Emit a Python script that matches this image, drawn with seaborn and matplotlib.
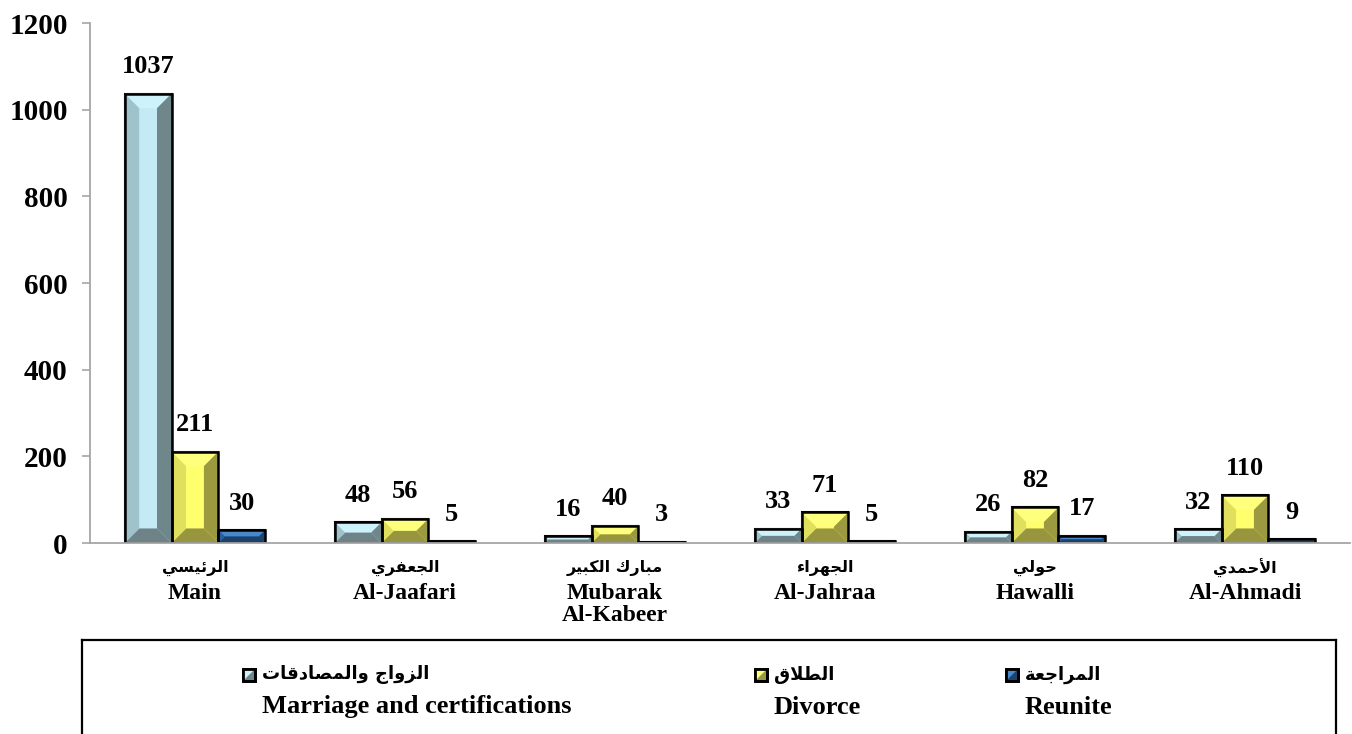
import numpy as np
import pandas as pd
import matplotlib
matplotlib.use("Agg")
import matplotlib.pyplot as plt
import seaborn as sns
from matplotlib.patches import Polygon, Rectangle

# ---------------- data ----------------
categories_en = ["Main", "Al-Jaafari", "Mubarak\nAl-Kabeer", "Al-Jahraa", "Hawalli", "Al-Ahmadi"]
categories_ar = ["الرئيسي", "الجعفري", "مبارك الكبير", "الجهراء", "حولي", "الأحمدي"]
series_en = ["Marriage and certifications", "Divorce", "Reunite"]
series_ar = ["الزواج والمصادقات", "الطلاق", "المراجعة"]
marriage = [1037, 48, 16, 33, 26, 32]
divorce = [211, 56, 40, 71, 82, 110]
reunite = [30, 5, 3, 5, 17, 9]
y_ticks = [0, 200, 400, 600, 800, 1000, 1200]

# bevel colours per series: centre, top, left, right, bottom
bevel_colors = [
    ("#C3EAF5", "#CDF2FB", "#A0C2CA", "#6F868B", "#6E8388"),
    ("#FFFF6E", "#FFFF7E", "#E0E05E", "#9C9A40", "#97963E"),
    ("#2C6AAE", "#4A88CC", "#28609E", "#1C4470", "#1B416A"),
]

# ---------------- tiny Arabic shaper (matplotlib has no bidi/shaping) ----------------
DUAL = {"\u0626": 0xFE89, "\u0628": 0xFE8F, "\u062A": 0xFE95, "\u062C": 0xFE9D, "\u062D": 0xFEA1,
        "\u0633": 0xFEB1, "\u0635": 0xFEB9, "\u0637": 0xFEC1, "\u0639": 0xFEC9, "\u0641": 0xFED1,
        "\u0642": 0xFED5, "\u0643": 0xFED9, "\u0644": 0xFEDD, "\u0645": 0xFEE1, "\u0647": 0xFEE9,
        "\u064A": 0xFEF1}
RIGHT = {"\u0623": 0xFE83, "\u0627": 0xFE8D, "\u0629": 0xFE93, "\u062F": 0xFEA9, "\u0631": 0xFEAD,
         "\u0632": 0xFEAF, "\u0648": 0xFEED}
NONJ = {"\u0621": 0xFE80}
LAMALEF = {"\u0627": 0xFEFB, "\u0623": 0xFEF7}


def shape_ar(text):
    toks = []
    i = 0
    while i < len(text):
        c = text[i]
        if c == "\u0644" and i + 1 < len(text) and text[i + 1] in LAMALEF:
            toks.append(("LA", text[i + 1]))
            i += 2
        else:
            toks.append(c)
            i += 1

    def jtype(t):
        if isinstance(t, tuple):
            return "R"
        if t in DUAL:
            return "D"
        if t in RIGHT:
            return "R"
        return "U"

    out = []
    for k, t in enumerate(toks):
        jt = jtype(t)
        prev_j = k > 0 and jtype(toks[k - 1]) == "D" and jt in ("D", "R")
        next_j = k + 1 < len(toks) and jt == "D" and jtype(toks[k + 1]) in ("D", "R")
        if isinstance(t, tuple):
            base = LAMALEF[t[1]]
            out.append(chr(base + (1 if prev_j else 0)))
        elif jt == "D":
            idx = 3 if (prev_j and next_j) else 1 if prev_j else 2 if next_j else 0
            out.append(chr(DUAL[t] + idx))
        elif jt == "R":
            out.append(chr(RIGHT[t] + (1 if prev_j else 0)))
        elif t in NONJ:
            out.append(chr(NONJ[t]))
        else:
            out.append(t)
    return "".join(out)[::-1]


# ---------------- figure ----------------
sns.set_style("white")
plt.rcParams["font.family"] = ["Liberation Serif", "DejaVu Sans"]
plt.rcParams["font.weight"] = "bold"
plt.rcParams["text.color"] = "black"
plt.rcParams["xtick.labelcolor"] = "black"
plt.rcParams["ytick.labelcolor"] = "black"

W, H = 1352, 734
fig = plt.figure(figsize=(W / 100, H / 100), dpi=100)
ax = fig.add_axes([90 / W, (H - 543) / H, (1350 - 90) / W, (543 - 23) / H])

rows = []
for s, vals in zip(series_en, [marriage, divorce, reunite]):
    for c, v in zip(categories_en, vals):
        rows.append({"cat": c, "val": v, "series": s})
df = pd.DataFrame(rows)

sns.barplot(data=df, x="cat", y="val", hue="series", order=categories_en, hue_order=series_en,
            palette=[c[0] for c in bevel_colors], saturation=1, width=0.67, errorbar=None,
            edgecolor="black", linewidth=1.5, legend=False, ax=ax)

ax.set_ylim(0, 1200)
ax.set_xlim(-0.5, len(categories_en) - 0.5)
ax.set_yticks(y_ticks)
ax.set_yticklabels([str(t) for t in y_ticks], fontsize=21, fontweight="bold", color="black")
ax.set_xlabel("")
ax.set_ylabel("")
for sp in ["top", "right"]:
    ax.spines[sp].set_visible(False)
for sp in ["left", "bottom"]:
    ax.spines[sp].set_color("#A6A6A6")
    ax.spines[sp].set_linewidth(1.3)
ax.tick_params(axis="y", direction="out", length=6, width=1.2, color="#A6A6A6", pad=10, left=True)
ax.tick_params(axis="x", length=0, pad=29)
ax.set_xticks(range(len(categories_en)))
ax.set_xticklabels(categories_en, fontsize=17, fontweight="bold", linespacing=1.05, color="black")

# bevel decoration computed from each bar's own geometry
inv = ax.transData.inverted()
all_vals = [marriage, divorce, reunite]
for si, cont in enumerate(ax.containers):
    cen, top, left, right, bot = bevel_colors[si]
    for bar in cont:
        x0, y0 = bar.get_x(), bar.get_y()
        w, h = bar.get_width(), bar.get_height()
        (ax0, ay0) = ax.transData.transform((x0, y0))
        (ax1, ay1) = ax.transData.transform((x0 + w, y0 + h))
        wpx, hpx = ax1 - ax0, ay1 - ay0
        d = min(15.0, wpx * 0.31, hpx / 2.0)
        polys = {
            top: [(ax0, ay1), (ax1, ay1), (ax1 - d, ay1 - d), (ax0 + d, ay1 - d)],
            bot: [(ax0, ay0), (ax1, ay0), (ax1 - d, ay0 + d), (ax0 + d, ay0 + d)],
            left: [(ax0, ay0), (ax0 + d, ay0 + d), (ax0 + d, ay1 - d), (ax0, ay1)],
            right: [(ax1, ay0), (ax1 - d, ay0 + d), (ax1 - d, ay1 - d), (ax1, ay1)],
        }
        for col, pts in polys.items():
            ax.add_patch(Polygon(inv.transform(pts), closed=True, facecolor=col,
                                 edgecolor="none", zorder=bar.get_zorder() + 0.1))
        ax.add_patch(Rectangle((x0, y0), w, h, fill=False, edgecolor="black", linewidth=1.8,
                               zorder=bar.get_zorder() + 0.2))
    ax.bar_label(cont, labels=[str(v) for v in all_vals[si]], padding=11, fontsize=19,
                 fontweight="bold", family="Liberation Serif", color="black")

# Arabic category names above the English tick labels
for xt, name in zip(ax.get_xticks(), categories_ar):
    ax.annotate(shape_ar(name), (xt, 0), xycoords=("data", "data"), xytext=(0, -18),
                textcoords="offset points", ha="center", va="center", fontsize=11.5,
                fontweight="bold", family="DejaVu Sans", color="black", annotation_clip=False)

# ---------------- legend box ----------------
lg = fig.add_axes([82 / W, (H - 800) / H, (1336 - 82) / W, (800 - 640) / H])
lg.set_xlim(82, 1336)
lg.set_ylim(800, 640)
lg.set_xticks([])
lg.set_yticks([])
for sp in lg.spines.values():
    sp.set_visible(True)
    sp.set_color("black")
    sp.set_linewidth(1.6)

marker_x = [243, 755, 1006]
for si in range(len(series_en)):
    mx = marker_x[si]
    cen, top, left, right, bot = bevel_colors[si]
    lg.add_patch(Rectangle((mx, 669), 12, 12, facecolor=right, edgecolor="black", linewidth=2))
    lg.add_patch(Polygon([(mx, 669), (mx + 12, 669), (mx, 681)], closed=True,
                         facecolor=top, edgecolor="none"))
    lg.add_patch(Rectangle((mx, 669), 12, 12, fill=False, edgecolor="black", linewidth=2))
    lg.text(mx + 19, 675, shape_ar(series_ar[si]), ha="left", va="center", fontsize=13,
            fontweight="bold", family="DejaVu Sans", color="black")
    lg.text(mx + 19, 707, series_en[si], ha="left", va="center", fontsize=19,
            fontweight="bold", family="Liberation Serif", color="black")

fig.savefig("out.png", dpi=100)
